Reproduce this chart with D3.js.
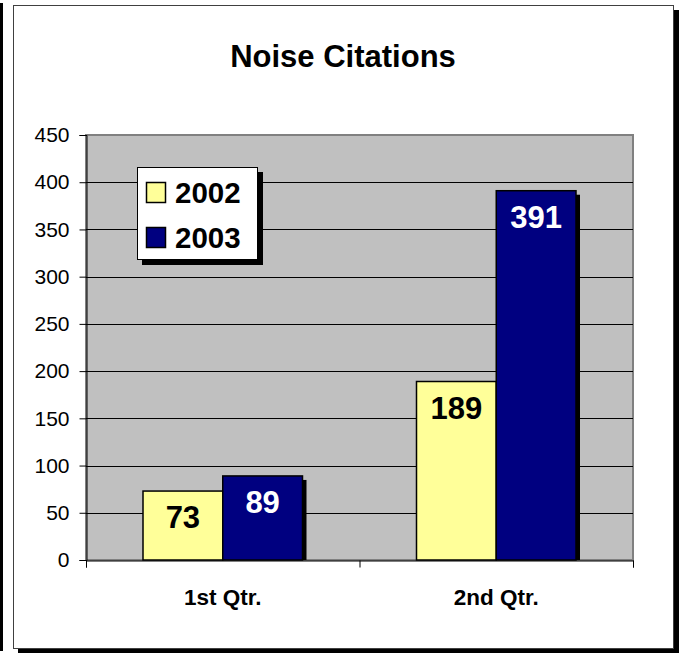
<!DOCTYPE html>
<html><head><meta charset="utf-8">
<script src="https://cdn.jsdelivr.net/npm/d3@7"></script>
<style>body{margin:0;background:#fff}svg{display:block}</style>
</head><body>
<script>
const categories = ["1st Qtr.", "2nd Qtr."];
const seriesNames = ["2002", "2003"];
const values2002 = [73, 189];
const values2003 = [89, 391];
const yTicks = [0, 50, 100, 150, 200, 250, 300, 350, 400, 450];
const colors = ["#FFFF99", "#000080"];
const labelColors = ["#000000", "#FFFFFF"];

const W = 679, H = 653;
const svg = d3.select("body").append("svg").attr("width", W).attr("height", H);
const font = "Arial, 'Liberation Sans', sans-serif";

// left black edge
svg.append("rect").attr("x", 0).attr("y", 3).attr("width", 3).attr("height", 648).attr("fill", "#000");
// frame shadow + frame
svg.append("rect").attr("x", 18).attr("y", 10).attr("width", 661).attr("height", 643).attr("fill", "#000");
svg.append("rect").attr("x", 13.5).attr("y", 5.5).attr("width", 660).attr("height", 643)
  .attr("fill", "#fff").attr("stroke", "#404040").attr("stroke-width", 1);

const plot = {l: 86, t: 135, r: 633, b: 560};
const x0 = d3.scaleBand().domain(categories).range([plot.l, plot.r]).paddingInner(0).paddingOuter(0);
const x1 = d3.scaleBand().domain(seriesNames).range([57, x0.bandwidth() - 57]);
const y = d3.scaleLinear().domain([0, 450]).range([plot.b, plot.t]);

// plot area
svg.append("rect").attr("x", plot.l).attr("y", plot.t).attr("width", plot.r - plot.l).attr("height", plot.b - plot.t)
  .attr("fill", "#C0C0C0").attr("stroke", "#808080").attr("stroke-width", 2);

// gridlines
svg.append("g").selectAll("line").data(yTicks.filter(d => d > 0 && d < 450)).join("line")
  .attr("x1", plot.l).attr("x2", plot.r).attr("y1", d => Math.round(y(d)) + 0.5).attr("y2", d => Math.round(y(d)) + 0.5)
  .attr("stroke", "#000").attr("stroke-width", 1);

// y axis
const yAxis = d3.axisLeft(y).tickValues(yTicks).tickSize(7).tickPadding(10);
const gy = svg.append("g").attr("transform", `translate(${plot.l + 0.5},0)`).call(yAxis);
gy.select(".domain").attr("stroke", "#000");
gy.selectAll(".tick line").attr("stroke", "#000");
gy.selectAll("text").attr("font-family", font).attr("font-size", 21).attr("fill", "#000");

// x axis
const xAxis = d3.axisBottom(d3.scaleLinear().domain([0, 2]).range([plot.l, plot.r])).tickValues([0, 1, 2]).tickSize(7).tickFormat("");
const gx = svg.append("g").attr("transform", `translate(0,${plot.b + 0.5})`).call(xAxis);
gx.select(".domain").attr("stroke", "#000");
gx.selectAll(".tick line").attr("stroke", "#000");
svg.append("g").selectAll("text").data(categories).join("text")
  .attr("x", d => x0(d) + x0.bandwidth() / 2).attr("y", 605).attr("text-anchor", "middle")
  .attr("font-family", font).attr("font-size", 22.5).attr("font-weight", "bold").text(d => d);

// bars
const series = [values2002, values2003];
series.forEach((vals, si) => {
  const g = svg.append("g");
  const data = categories.map((c, i) => ({c, v: vals[i]}));
  g.selectAll("rect.sh").data(data).join("rect").attr("class", "sh")
    .attr("x", d => x0(d.c) + x1(seriesNames[si]) + 4).attr("y", d => y(d.v) + 4)
    .attr("width", x1.bandwidth()).attr("height", d => y(0) - y(d.v) - 4).attr("fill", "#000");
});
series.forEach((vals, si) => {
  const g = svg.append("g");
  const data = categories.map((c, i) => ({c, v: vals[i]}));
  g.selectAll("rect.bar").data(data).join("rect").attr("class", "bar")
    .attr("x", d => x0(d.c) + x1(seriesNames[si])).attr("y", d => y(d.v))
    .attr("width", x1.bandwidth()).attr("height", d => y(0) - y(d.v))
    .attr("fill", colors[si]).attr("stroke", "#000").attr("stroke-width", 1.5);
  g.selectAll("text").data(data).join("text")
    .attr("x", d => x0(d.c) + x1(seriesNames[si]) + x1.bandwidth() / 2)
    .attr("y", d => y(d.v) + 37).attr("text-anchor", "middle")
    .attr("font-family", font).attr("font-size", 31).attr("font-weight", "bold")
    .attr("fill", labelColors[si]).text(d => d.v);
});

// legend
const lg = svg.append("g");
lg.append("rect").attr("x", 142).attr("y", 172).attr("width", 121).attr("height", 93).attr("fill", "#000");
lg.append("rect").attr("x", 137.5).attr("y", 167.5).attr("width", 120).attr("height", 92).attr("fill", "#fff").attr("stroke", "#000").attr("stroke-width", 1);
seriesNames.forEach((s, i) => {
  lg.append("rect").attr("x", 146.5).attr("y", 182.5 + i * 45).attr("width", 19).attr("height", 20)
    .attr("fill", colors[i]).attr("stroke", "#000").attr("stroke-width", 1.5);
  lg.append("text").attr("x", 175).attr("y", 203 + i * 45).attr("font-family", font).attr("font-size", 29.5)
    .attr("font-weight", "bold").text(s);
});

// title
svg.append("text").attr("x", 343).attr("y", 67).attr("text-anchor", "middle").attr("font-family", font)
  .attr("font-size", 31).attr("font-weight", "bold").text("Noise Citations");
</script>
</body></html>
